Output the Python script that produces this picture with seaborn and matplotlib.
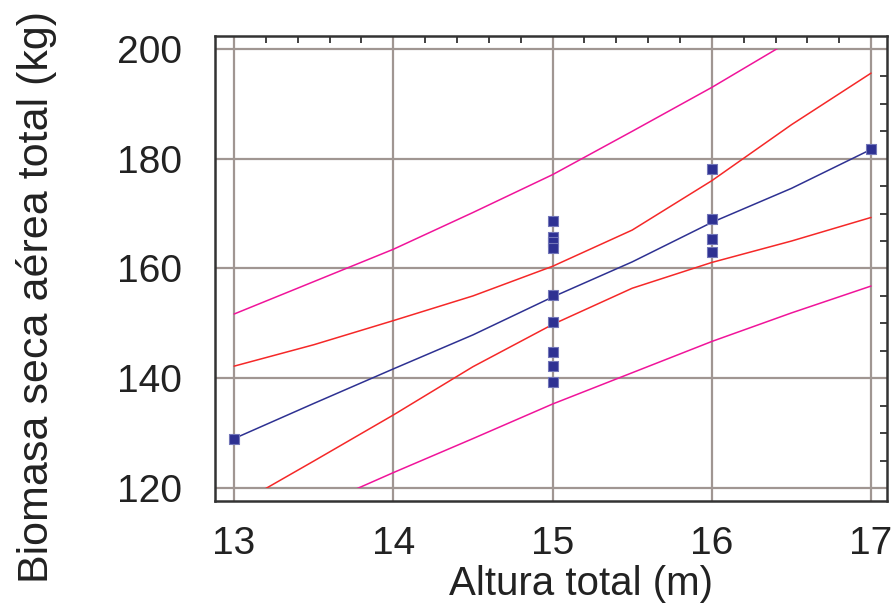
import matplotlib
matplotlib.use("Agg")
import matplotlib.pyplot as plt
import seaborn as sns
import numpy as np
from matplotlib.patches import Rectangle
from matplotlib.ticker import MultipleLocator

# observed points
altura = [13, 15, 15, 15, 15, 15, 15, 15, 15, 15, 16, 16, 16, 16, 17]
biomasa = [129.0, 168.6, 165.8, 164.8, 163.8, 155.2, 150.3, 144.8, 142.3, 139.4,
           178.2, 169.0, 165.4, 163.0, 181.8]

# fitted line and bands
x_grid = [13, 13.5, 14, 14.5, 15, 15.5, 16, 16.5, 17]
fit = [129.0, 135.4, 141.7, 147.9, 154.8, 161.2, 168.4, 174.6, 181.7]
ci_upper = [142.2, 146.1, 150.5, 155.0, 160.4, 167.0, 176.0, 186.2, 195.6]
ci_lower = [116.6, 124.9, 133.3, 142.1, 149.8, 156.4, 161.1, 165.0, 169.3]
pi_upper = [151.7, 157.6, 163.5, 170.2, 177.1, 185.0, 193.0, 201.6, 210.0]
pi_lower = [110.0, 116.4, 122.8, 129.0, 135.3, 141.0, 146.7, 151.9, 156.8]

x_ticks = [13, 14, 15, 16, 17]
y_ticks = [120, 140, 160, 180, 200]

sns.set_style("white")
plt.rcParams['font.family'] = ['Liberation Sans', 'DejaVu Sans']

fig = plt.figure(figsize=(8.91, 6.15), dpi=100)
ax = fig.add_axes([0.2413, 0.1854, 0.7542, 0.7561])

grid_col = '#a09692'
for v in x_ticks:
    ax.axvline(v, color=grid_col, lw=1.6, zorder=1)
for v in y_ticks:
    ax.axhline(v, color=grid_col, lw=1.6, zorder=1)

sns.lineplot(x=x_grid, y=pi_upper, color='#f0149a', lw=1.1, ax=ax, zorder=2)
sns.lineplot(x=x_grid, y=pi_lower, color='#f0149a', lw=1.1, ax=ax, zorder=2)
sns.lineplot(x=x_grid, y=ci_upper, color='#f52828', lw=1.1, ax=ax, zorder=2)
sns.lineplot(x=x_grid, y=ci_lower, color='#f52828', lw=1.1, ax=ax, zorder=2)
sns.lineplot(x=x_grid, y=fit, color='#2e3192', lw=1.1, ax=ax, zorder=3)

# curves stop at the outer grid lines (120 and 200)
clip = Rectangle((12.5, 120), 5, 80, transform=ax.transData)
for ln in ax.get_lines()[len(x_ticks) + len(y_ticks):]:
    ln.set_clip_path(clip)

sns.scatterplot(x=altura, y=biomasa, marker='s', s=60, color='#2e3192',
                edgecolor='#7377b8', linewidth=0.8, ax=ax, zorder=4)

ax.set_xlim(12.88, 17.10)
ax.set_ylim(117.63, 202.37)
ax.set_xticks(x_ticks)
ax.set_yticks(y_ticks)
ax.xaxis.set_minor_locator(MultipleLocator(0.2))
ax.yaxis.set_minor_locator(MultipleLocator(5))

ax.tick_params(which='both', direction='in', top=True, right=True,
               color='#333333', width=1.3)
ax.tick_params(which='major', length=9)
ax.tick_params(which='minor', length=5)
ax.tick_params(axis='x', which='major', labelsize=28, pad=18, labelcolor='#222222')
ax.tick_params(axis='y', which='major', labelsize=28, pad=24, labelcolor='#222222')

for sp in ax.spines.values():
    sp.set_color('#333333')
    sp.set_linewidth(1.8)

ax.set_xlabel('Altura total (m)', fontsize=29, color='#222222')
ax.set_ylabel('Biomasa seca aérea total (kg)', fontsize=31, color='#222222')
ax.xaxis.set_label_coords(0.545, -0.138)
ax.yaxis.set_label_coords(-0.235, 0.4376)

fig.savefig('out.png', dpi=100)
